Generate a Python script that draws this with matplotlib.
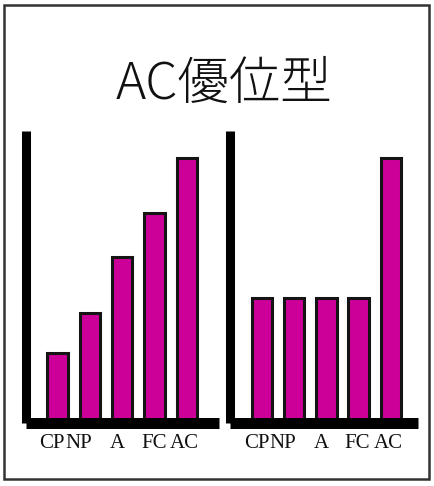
import matplotlib
matplotlib.use("Agg")
import matplotlib.pyplot as plt
from matplotlib.patches import Rectangle

# ---- data ----
title = "AC優位型"
categories = ["CP", "NP", "A", "FC", "AC"]
left_values = [1.31, 2.08, 3.14, 3.96, 5.0]
right_values = [2.35, 2.35, 2.35, 2.35, 5.0]

# ---- layout ----
W, H = 435, 486
DPI = 100
bar_color = "#CC0099"
edge_color = "#141414"
label_offsets = [-0.17, -0.35, -0.15, -0.03, -0.09]

fig = plt.figure(figsize=(W / DPI, H / DPI), dpi=DPI)
fig.patch.set_facecolor("white")

# outer frame
fig.add_artist(Rectangle((4.5 / W, (H - 478.5) / H), 425 / W, 473 / H,
                         transform=fig.transFigure, fill=False,
                         edgecolor="#333333", linewidth=1.8))

fig.text(224 / W, 1 - 84 / H, title, ha="center", va="center",
         fontsize=37, fontweight="light",
         family=["Noto Sans CJK JP", "DejaVu Sans"], color="#111111")


def panel(rect, values, xlim):
    ax = fig.add_axes(rect)
    x = list(range(len(values)))
    ax.bar(x, values, width=0.63, color=bar_color, edgecolor=edge_color,
           linewidth=2.2, zorder=1)
    ax.set_xlim(*xlim)
    ax.set_ylim(0, 5.52)
    for s in ["top", "right"]:
        ax.spines[s].set_visible(False)
    ax.spines["left"].set_linewidth(6.5)
    ax.spines["bottom"].set_linewidth(7.9)
    for s in ["left", "bottom"]:
        ax.spines[s].set_color("black")
        ax.spines[s].set_capstyle("butt")
    ax.set_yticks([])
    ax.set_xticks([i + o for i, o in zip(x, label_offsets)])
    ax.set_xticklabels(categories, family="Liberation Serif", fontsize=15,
                       color="#111111")
    ax.tick_params(axis="x", length=0, pad=8.5)
    ax.patch.set_alpha(0)
    return ax


panel([26 / W, (H - 422.5) / H, 193 / W, 291.5 / H], left_values, (-0.972, 4.985))
panel([229.75 / W, (H - 422.5) / H, 188.25 / W, 291.5 / H], right_values, (-1.0, 4.845))

fig.savefig("out.png", dpi=DPI, facecolor="white")
